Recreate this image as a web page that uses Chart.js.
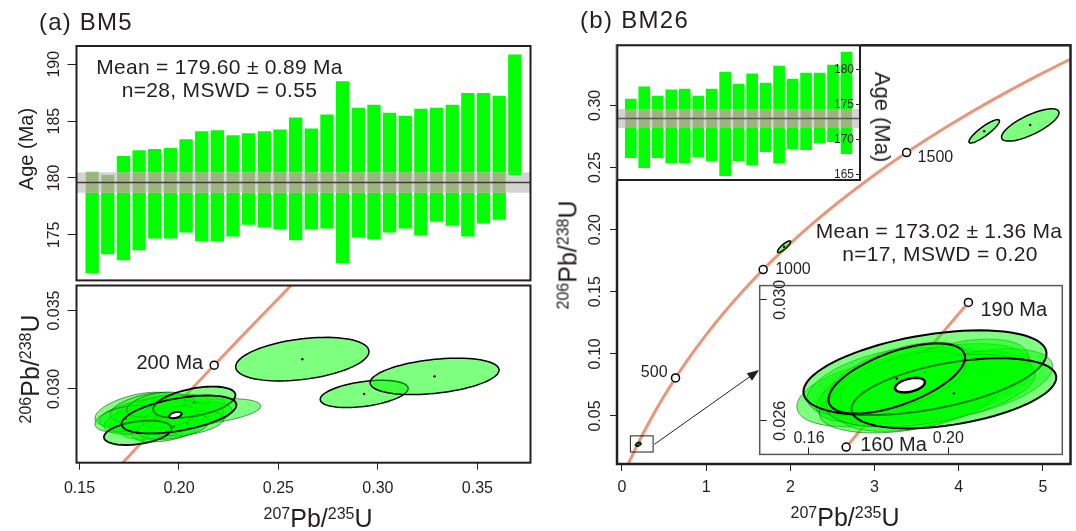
<!DOCTYPE html>
<html>
<head>
<meta charset="utf-8">
<title>BM5 / BM26 zircon U-Pb</title>
<script src="https://cdn.jsdelivr.net/npm/chart.js@4.4.1/dist/chart.umd.min.js"></script>
<style>
  body { margin: 0; background: #fff; }
  #fig { position: relative; width: 1076px; height: 531px; overflow: hidden; color: #231f20;
         font-family: "Liberation Sans", Arial, sans-serif; }
  #fig canvas { position: absolute; }
  .t { position: absolute; white-space: pre; line-height: 1; }
  .c { transform: translate(-50%, -50%); }
  .up { transform: translate(-50%, -50%) rotate(-90deg); }
  .down { transform: translate(-50%, -50%) rotate(90deg); }
  .ax { font-size: 25px; }
  .ax span { font-size: 16px; position: relative; top: -8.5px; }
</style>
</head>
<body>
<div id="fig">
  <canvas id="barsA" width="540" height="290" style="left:0;top:0"></canvas>
  <canvas id="concA" width="540" height="251" style="left:0;top:280px"></canvas>
  <canvas id="concB" width="546" height="531" style="left:530px;top:0"></canvas>
  <canvas id="barsB" width="262" height="150" style="left:610px;top:40px"></canvas>
  <canvas id="zoomB" width="320" height="190" style="left:750px;top:275px"></canvas>

  <div class="t" style="left:39px;top:9.5px;font-size:24px;letter-spacing:1.2px">(a) BM5</div>
  <div class="t" style="left:580px;top:7.7px;font-size:24px;letter-spacing:1.3px">(b) BM26</div>
  <div class="t c" style="left:219.5px;top:66px;font-size:21px;letter-spacing:0.3px">Mean = 179.60 ± 0.89 Ma</div>
  <div class="t c" style="left:219.5px;top:89px;font-size:21px;letter-spacing:0.3px">n=28, MSWD = 0.55</div>
  <div class="t c" style="left:939px;top:230px;font-size:21px;letter-spacing:0.3px">Mean = 173.02 ± 1.36 Ma</div>
  <div class="t c" style="left:940px;top:253px;font-size:21px;letter-spacing:0.3px">n=17, MSWD = 0.20</div>
  <div class="t up" style="left:26px;top:149px;font-size:20px">Age (Ma)</div>
  <div class="t down" style="left:882px;top:117px;font-size:22px">Age (Ma)</div>
  <div class="t c ax" style="left:318px;top:518px"><span>207</span>Pb/<span>235</span>U</div>
  <div class="t c ax" style="left:845px;top:517px"><span>207</span>Pb/<span>235</span>U</div>
  <div class="t up ax" style="left:30px;top:369px"><span>206</span>Pb/<span>238</span>U</div>
  <div class="t up ax" style="left:568px;top:255px"><span>206</span>Pb/<span>238</span>U</div>
</div>

<script>
// ---- (a) BM5 single-grain ages, 2 sigma ranges (Ma)
const ageLowA = [171.69, 173.33, 172.80, 173.68, 174.72, 174.72, 175.24, 174.46, 174.46, 174.89,
  175.93, 175.67, 175.50, 174.55, 175.50, 175.58, 172.55, 174.81, 174.63, 175.24,
  175.58, 174.98, 176.19, 175.84, 174.89, 176.02, 176.36, 180.26];
const ageHighA = [180.52, 180.26, 181.90, 182.42, 182.51, 182.60, 183.38, 184.07, 184.16, 183.72,
  183.90, 184.07, 184.24, 185.28, 184.33, 185.54, 188.48, 186.15, 186.41, 185.71,
  185.45, 186.06, 186.15, 186.41, 187.45, 187.45, 187.19, 190.82];
const meanA = 179.60, errA = 0.89;

// ---- (b) BM26 single-grain ages (Ma)
const ageLowB = [167.40, 165.95, 167.40, 166.68, 166.68, 167.55, 166.97, 164.81, 166.97,
  166.40, 168.26, 166.68, 168.69, 168.55, 169.55, 169.70, 167.97];
const ageHighB = [175.83, 177.56, 176.26, 177.13, 177.27, 176.26, 177.27, 179.71, 177.99,
  179.43, 178.13, 180.57, 178.71, 179.57, 179.57, 180.72, 182.59];
const meanB = 173.02, errB = 1.36;

// ---- concordia reference points (age Ma, 207Pb/235U, 206Pb/238U)
const concAge = [0, 100, 150, 160, 170, 180, 190, 200, 210, 220, 230, 240, 300, 400, 500, 600, 700,
  800, 900, 1000, 1100, 1200, 1300, 1400, 1500, 1600, 1700, 1800, 1900, 2000];
const concX = [0, 0.10350, 0.15920, 0.17067, 0.18226, 0.19396, 0.20577, 0.21771, 0.22976, 0.24193,
  0.25422, 0.26664, 0.34374, 0.48281, 0.63628, 0.80563, 0.99251, 1.19873, 1.42630, 1.67741,
  1.95452, 2.26030, 2.59774, 2.97009, 3.38099, 3.83441, 4.33477, 4.88690, 5.49618, 6.16853];
const concY = [0, 0.015633, 0.023542, 0.025131, 0.026722, 0.028316, 0.029912, 0.031511, 0.033112,
  0.034716, 0.036323, 0.037932, 0.047637, 0.064016, 0.080650, 0.097544, 0.114702, 0.132130,
  0.149827, 0.167802, 0.186058, 0.204601, 0.223433, 0.242560, 0.261985, 0.281714, 0.301751,
  0.322102, 0.342771, 0.363766];
const markAgesA = [200], markTextA = ['200 Ma'];
const markAgesB = [500, 1000, 1500], markTextB = ['500', '1000', '1500'];
const markAgesZ = [160, 190], markTextZ = ['160 Ma', '190 Ma'];

// ---- error ellipses: [207/235, 206/238, half-range 207/235, half-range 206/238, rho]
const ellA = [
  [0.1783, 0.02868, 0.0205, 0.00111, 0.5], [0.2133, 0.02853, 0.0278, 0.00085, 0.45],
  [0.1873, 0.02863, 0.0194, 0.00095, 0.45], [0.1923, 0.02830, 0.0184, 0.00090, 0.45],
  [0.1853, 0.02800, 0.0204, 0.00088, 0.4], [0.1973, 0.02880, 0.0175, 0.00085, 0.45],
  [0.1823, 0.02840, 0.0223, 0.00100, 0.45], [0.1943, 0.02790, 0.0194, 0.00080, 0.4],
  [0.2023, 0.02860, 0.0213, 0.00092, 0.45], [0.1893, 0.02760, 0.0184, 0.00082, 0.4],
  [0.1803, 0.02800, 0.0180, 0.00090, 0.4], [0.1993, 0.02810, 0.0233, 0.00095, 0.45],
  [0.1913, 0.02880, 0.0165, 0.00085, 0.45], [0.1963, 0.02850, 0.0155, 0.00075, 0.45],
  [0.1843, 0.02880, 0.0189, 0.00098, 0.45], [0.2073, 0.02830, 0.0194, 0.00085, 0.4],
  [0.1933, 0.02740, 0.0170, 0.00078, 0.4], [0.1733, 0.02810, 0.0155, 0.00085, 0.4],
  [0.2043, 0.02780, 0.0184, 0.00080, 0.4], [0.1883, 0.02900, 0.0146, 0.00080, 0.45],
  [0.1973, 0.02760, 0.0180, 0.00082, 0.4], [0.1953, 0.02820, 0.0136, 0.00070, 0.45]
];
const ellAOutlined = [
  [0.2077, 0.02915, 0.0207, 0.00100, 0.45], [0.1793, 0.02720, 0.0170, 0.00078, 0.35],
  [0.2000, 0.02837, 0.0289, 0.00121, 0.5]
];
const ellAOff = [
  [0.2620, 0.03190, 0.0335, 0.00139, 0.35], [0.2931, 0.02968, 0.0221, 0.00087, 0.4],
  [0.3285, 0.03080, 0.0324, 0.00116, 0.35]
];
const meanEllA = [[0.1982, 0.02833, 0.0031, 0.00020, 0.4]];

const ellB = [
  [0.1792, 0.02692, 0.0227, 0.00111, 0.4], [0.1880, 0.02720, 0.0250, 0.00120, 0.5],
  [0.1960, 0.02730, 0.0280, 0.00125, 0.45], [0.1830, 0.02700, 0.0210, 0.00105, 0.5],
  [0.1900, 0.02700, 0.0230, 0.00110, 0.45], [0.1980, 0.02710, 0.0260, 0.00120, 0.5],
  [0.1860, 0.02750, 0.0200, 0.00110, 0.55], [0.1920, 0.02680, 0.0240, 0.00115, 0.45],
  [0.2050, 0.02720, 0.0250, 0.00118, 0.5], [0.1810, 0.02730, 0.0215, 0.00112, 0.5],
  [0.2000, 0.02750, 0.0230, 0.00120, 0.5], [0.1890, 0.02670, 0.0260, 0.00110, 0.4],
  [0.1950, 0.02700, 0.0300, 0.00120, 0.45], [0.1870, 0.02730, 0.0180, 0.00100, 0.55]
];
const ellBOutlined = [
  [0.1933, 0.02759, 0.0349, 0.00140, 0.45], [0.2016, 0.02691, 0.0294, 0.00116, 0.45],
  [0.1852, 0.02740, 0.0196, 0.00116, 0.6]
];
const ellBOld = [
  [1.925, 0.1862, 0.078, 0.0047, 0.85], [4.303, 0.2791, 0.181, 0.0094, 0.88],
  [4.850, 0.2842, 0.341, 0.0130, 0.75]
];
const meanEllB = [[0.1890, 0.02718, 0.0043, 0.00024, 0.4]];

// ---- tick values
const ageTicksA = [175, 180, 185, 190];
const x207TicksA = [0.15, 0.20, 0.25, 0.30, 0.35];
const y206TicksA = [0.030, 0.035];
const x207TicksB = [0, 1, 2, 3, 4, 5];
const y206TicksB = [0.05, 0.10, 0.15, 0.20, 0.25, 0.30];
const ageTicksB = [165, 170, 175, 180];
const x207TicksZ = [0.16, 0.20];
const y206TicksZ = [0.026, 0.030];

const ink = '#231f20';
const salmon = '#e9967a';
const green = '#00ff00';
const ellFill = 'rgba(0,255,0,0.5)';
const fontFam = '"Liberation Sans", Arial, sans-serif';
Chart.defaults.font.family = fontFam;
Chart.defaults.color = ink;

// white box behind inset charts
const paperPlugin = {
  id: 'paper',
  beforeDraw(chart, args, o) {
    if (!o.color) return;
    const {ctx, chartArea: a} = chart;
    ctx.save();
    ctx.fillStyle = o.color;
    ctx.fillRect(a.left - 1, a.top - 1, a.width + 2, a.height + 2);
    ctx.restore();
  }
};

// weighted mean band over the age bars
const bandPlugin = {
  id: 'band',
  afterDatasetsDraw(chart, args, o) {
    if (o.mean === undefined) return;
    const {ctx, chartArea: a, scales: {y}} = chart;
    const top = y.getPixelForValue(o.mean + o.err);
    const bot = y.getPixelForValue(o.mean - o.err);
    const my = y.getPixelForValue(o.mean);
    ctx.save();
    ctx.beginPath(); ctx.rect(a.left, a.top, a.width, a.height); ctx.clip();
    ctx.fillStyle = '#d3d3d3';
    ctx.fillRect(a.left, top, a.width, bot - top);
    chart.getDatasetMeta(0).data.forEach((bar, i) => {
      const t = Math.max(top, y.getPixelForValue(o.hi[i]));
      const b = Math.min(bot, y.getPixelForValue(o.lo[i]));
      if (b <= t) return;
      ctx.fillStyle = (o.lo[i] <= o.mean && o.hi[i] >= o.mean) ? '#9cb47e' : green;
      ctx.fillRect(bar.x - bar.width / 2, t, bar.width, b - t);
    });
    ctx.strokeStyle = o.line;
    ctx.lineWidth = 1.5;
    ctx.beginPath(); ctx.moveTo(a.left, my); ctx.lineTo(a.right, my); ctx.stroke();
    ctx.restore();
  }
};

// error ellipses
const ellipsePlugin = {
  id: 'ellipses',
  afterDatasetsDraw(chart, args, o) {
    if (!o.sets) return;
    const {ctx, chartArea: a, scales: {x, y}} = chart;
    ctx.save();
    ctx.beginPath(); ctx.rect(a.left, a.top, a.width, a.height); ctx.clip();
    o.sets.forEach(set => {
      set.data.forEach(e => {
        const [cx, cy, sx, sy, r] = e;
        const q = Math.sqrt(1 - r * r);
        ctx.beginPath();
        for (let k = 0; k <= 80; k++) {
          const t = k / 80 * 2 * Math.PI;
          const px = x.getPixelForValue(cx + sx * Math.cos(t));
          const py = y.getPixelForValue(cy + sy * (r * Math.cos(t) + q * Math.sin(t)));
          if (k) ctx.lineTo(px, py); else ctx.moveTo(px, py);
        }
        ctx.closePath();
        ctx.fillStyle = set.fill;
        ctx.fill();
        ctx.lineWidth = set.lw;
        ctx.strokeStyle = set.stroke;
        ctx.stroke();
        if (set.dot) {
          ctx.fillStyle = '#000';
          ctx.beginPath();
          ctx.arc(x.getPixelForValue(cx), y.getPixelForValue(cy), 1.2, 0, 2 * Math.PI);
          ctx.fill();
        }
      });
    });
    ctx.restore();
  }
};

// age labels next to concordia markers
const tagPlugin = {
  id: 'tags',
  afterDatasetsDraw(chart, args, o) {
    if (!o.items) return;
    const {ctx, scales: {x, y}} = chart;
    ctx.save();
    ctx.fillStyle = ink;
    ctx.font = o.font;
    ctx.textBaseline = 'middle';
    o.items.forEach(it => {
      const i = concAge.indexOf(it.age);
      ctx.textAlign = it.align;
      ctx.fillText(it.text, x.getPixelForValue(concX[i]) + it.dx, y.getPixelForValue(concY[i]) + it.dy);
    });
    ctx.restore();
  }
};

// small box + arrow pointing to the enlarged inset
const pointerPlugin = {
  id: 'pointer',
  afterDatasetsDraw(chart, args, o) {
    if (!o.box) return;
    const {ctx, scales: {x, y}} = chart;
    const x0 = x.getPixelForValue(o.box[0]), x1 = x.getPixelForValue(o.box[1]);
    const y0 = y.getPixelForValue(o.box[2]), y1 = y.getPixelForValue(o.box[3]);
    const fx = x.getPixelForValue(o.from[0]), fy = y.getPixelForValue(o.from[1]);
    const tx = x.getPixelForValue(o.to[0]), ty = y.getPixelForValue(o.to[1]);
    const ang = Math.atan2(ty - fy, tx - fx);
    ctx.save();
    ctx.strokeStyle = ink; ctx.fillStyle = ink; ctx.lineWidth = 1;
    ctx.strokeRect(x0, y1, x1 - x0, y0 - y1);
    ctx.beginPath(); ctx.moveTo(fx, fy);
    ctx.lineTo(tx - 9 * Math.cos(ang), ty - 9 * Math.sin(ang)); ctx.stroke();
    ctx.beginPath();
    ctx.moveTo(tx, ty);
    ctx.lineTo(tx - 12 * Math.cos(ang) + 4.5 * Math.sin(ang), ty - 12 * Math.sin(ang) - 4.5 * Math.cos(ang));
    ctx.lineTo(tx - 12 * Math.cos(ang) - 4.5 * Math.sin(ang), ty - 12 * Math.sin(ang) + 4.5 * Math.cos(ang));
    ctx.closePath(); ctx.fill();
    ctx.restore();
  }
};

// plot box
const framePlugin = {
  id: 'frame',
  afterDraw(chart, args, o) {
    if (!o.width) return;
    const {ctx, chartArea: a} = chart;
    ctx.save();
    ctx.strokeStyle = o.color;
    ctx.lineWidth = o.width;
    ctx.strokeRect(a.left, a.top, a.width, a.height);
    ctx.restore();
  }
};

Chart.register(paperPlugin, bandPlugin, ellipsePlugin, tagPlugin, pointerPlugin, framePlugin);

function axis(min, max, ticks, opt) {
  return {
    type: 'linear', bounds: 'data', min: min, max: max, offset: false,
    display: opt.display !== false,
    position: opt.position,
    afterBuildTicks: s => { s.ticks = ticks.map(v => ({value: v})); },
    afterFit: s => {
      if (opt.size === undefined) return;
      if (s.isHorizontal()) s.height = opt.size; else s.width = opt.size;
    },
    ticks: {
      autoSkip: false, font: {size: opt.font || 16}, color: ink, padding: opt.pad || 0,
      mirror: !!opt.mirror, minRotation: opt.rot || 0, maxRotation: opt.rot || 0,
      crossAlign: opt.rot ? 'center' : 'near', z: opt.z || 0,
      callback: v => Number(v).toFixed(opt.digits || 0)
    },
    grid: {drawOnChartArea: false, tickLength: opt.tl || 0, tickColor: ink, tickWidth: 1,
      offset: false, z: opt.z ? 1 : -1},
    border: {display: false}
  };
}

function options(pad, scales, plugins) {
  return {
    responsive: false, animation: false, events: [],
    layout: {padding: pad},
    scales: scales,
    plugins: Object.assign({legend: {display: false}, tooltip: {enabled: false}}, plugins)
  };
}

const concPts = (lo, hi) => concAge.map((a, i) => ({a: a, x: concX[i], y: concY[i]}))
  .filter(p => p.a >= lo && p.a <= hi).map(p => ({x: p.x, y: p.y}));
const markPts = ages => ages.map(a => ({x: concX[concAge.indexOf(a)], y: concY[concAge.indexOf(a)]}));
const tags = (ages, texts, place) => ages.map((a, i) => Object.assign({age: a, text: texts[i]}, place[i]));

function concDatasets(ages, lo, hi) {
  return [
    {data: markPts(ages), showLine: false, pointRadius: 4, pointBackgroundColor: '#fff',
     pointBorderColor: '#000', pointBorderWidth: 1.5},
    {data: concPts(lo, hi), showLine: true, pointRadius: 0, borderColor: salmon, borderWidth: 3,
     cubicInterpolationMode: 'monotone', clip: 0}
  ];
}

// (a) age bars
new Chart(document.getElementById('barsA'), {
  type: 'bar',
  data: {datasets: [{
    data: ageLowA.map((lo, i) => ({x: i + 1, y: [lo, ageHighA[i]]})),
    backgroundColor: green, borderWidth: 0, barThickness: 12.7
  }]},
  options: options({left: 0, top: 46, right: 9.5, bottom: 6}, {
    x: axis(0, 29, [], {display: false}),
    y: axis(171.0, 191.6, ageTicksA, {size: 76.5, rot: 90, pad: 0, tl: 9})
  }, {
    band: {mean: meanA, err: errA, lo: ageLowA, hi: ageHighA, line: '#3d3d3d'},
    frame: {color: ink, width: 2}
  })
});

// (a) concordia
new Chart(document.getElementById('concA'), {
  type: 'scatter',
  data: {datasets: concDatasets(markAgesA, 0, 2000)},
  options: options({left: 0, top: 4, right: 9.5, bottom: 0}, {
    x: axis(0.1485, 0.3767, x207TicksA, {size: 68.3, pad: 9, tl: 7, digits: 2}),
    y: axis(0.02529, 0.0366, y206TicksA, {size: 76.5, rot: 90, pad: -6.7, tl: 9, digits: 3})
  }, {
    ellipses: {sets: [
      {data: ellA, fill: ellFill, stroke: 'rgba(0,60,0,0.55)', lw: 1, dot: true},
      {data: ellAOutlined, fill: ellFill, stroke: '#000', lw: 1.8, dot: true},
      {data: ellAOff, fill: ellFill, stroke: '#000', lw: 1.5, dot: true},
      {data: meanEllA, fill: '#fff', stroke: '#000', lw: 2, dot: false}
    ]},
    tags: {font: '20px ' + fontFam, items: tags(markAgesA, markTextA, [{dx: -11, dy: -1.6, align: 'right'}])},
    frame: {color: ink, width: 2}
  })
});

// (b) main concordia
new Chart(document.getElementById('concB'), {
  type: 'scatter',
  data: {datasets: concDatasets(markAgesB, 0, 2000)},
  options: options({left: 0, top: 45.3, right: 4.5, bottom: 0}, {
    x: axis(-0.059, 5.328, x207TicksB, {size: 67, pad: 7, tl: 7, digits: 0}),
    y: axis(0.01137, 0.3483, y206TicksB, {size: 87, rot: 90, pad: -1, tl: 7, digits: 2})
  }, {
    ellipses: {sets: [
      {data: ellB, fill: ellFill, stroke: 'rgba(0,0,0,0.8)', lw: 1, dot: false},
      {data: ellBOutlined, fill: ellFill, stroke: '#000', lw: 1, dot: false},
      {data: ellBOld, fill: ellFill, stroke: '#000', lw: 1.5, dot: true}
    ]},
    tags: {font: '16px ' + fontFam, items: tags(markAgesB, markTextB, [
      {dx: -8, dy: -5, align: 'right'}, {dx: 12, dy: 0, align: 'left'}, {dx: 11, dy: 5.5, align: 'left'}
    ])},
    pointer: {box: [0.10, 0.37, 0.021, 0.034], from: [0.385, 0.0272], to: [1.63, 0.0870]},
    frame: {color: ink, width: 2.5}
  })
});

// (b) inset age bars
new Chart(document.getElementById('barsB'), {
  type: 'bar',
  data: {datasets: [{
    data: ageLowB.map((lo, i) => ({x: i + 1, y: [lo, ageHighB[i]]})),
    backgroundColor: green, borderWidth: 0, barThickness: 11
  }]},
  options: options({left: 7.3, top: 5.3, right: 12, bottom: 10}, {
    x: axis(0, 18, [], {display: false}),
    y: axis(164.18, 183.55, ageTicksB, {position: 'right', size: 0, mirror: true, pad: -6, tl: -4, font: 12, z: 1})
  }, {
    paper: {color: '#fff'},
    band: {mean: meanB, err: errB, lo: ageLowB, hi: ageHighB, line: '#555'},
    frame: {color: ink, width: 2}
  })
});

// (b) enlarged concordia inset
new Chart(document.getElementById('zoomB'), {
  type: 'scatter',
  data: {datasets: concDatasets(markAgesZ, 160, 190)},
  options: options({left: 9.7, top: 7.7, right: 7.7, bottom: 10}, {
    x: axis(0.14585, 0.23273, x207TicksZ, {size: 0, mirror: true, pad: 6, tl: -7, digits: 2, z: 1}),
    y: axis(0.02489, 0.03047, y206TicksZ, {size: 0, mirror: true, rot: 90, pad: 1, tl: -7, digits: 3, z: 1})
  }, {
    paper: {color: '#fff'},
    ellipses: {sets: [
      {data: ellB, fill: ellFill, stroke: 'rgba(0,60,0,0.5)', lw: 1, dot: true},
      {data: ellBOutlined, fill: ellFill, stroke: '#000', lw: 2, dot: true},
      {data: meanEllB, fill: '#fff', stroke: '#000', lw: 2.5, dot: false}
    ]},
    tags: {font: '20px ' + fontFam, items: tags(markAgesZ, markTextZ, [
      {dx: 14, dy: -2, align: 'left'}, {dx: 12, dy: 8, align: 'left'}
    ])},
    frame: {color: '#595959', width: 1.5}
  })
});
</script>
</body>
</html>
